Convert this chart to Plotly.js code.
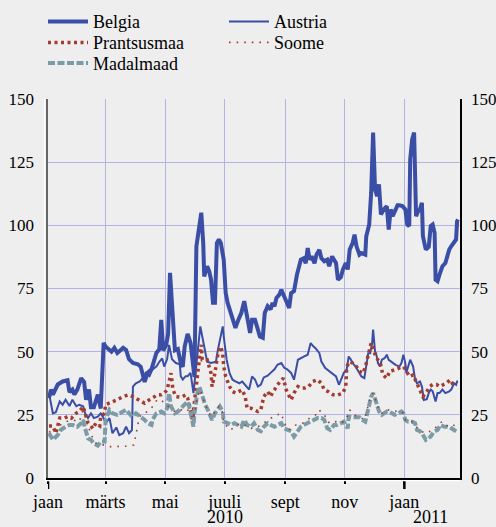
<!DOCTYPE html>
<html><head><meta charset="utf-8">
<script src="https://cdn.plot.ly/plotly-3.0.1.min.js"></script>
<style>html,body{margin:0;padding:0;background:#eeeeee;}</style>
</head><body><div id="chart" style="width:496px;height:527px;"></div>
<script>
// [day offset from 2010-01-01, value]
const belgia = [[1,31.6],[3,35],[5,33],[10,37],[15,38.2],[20,38.7],[22,34],[25,35],[27,33],[30,35],[34,39.5],[37,38],[39,31],[42,35],[44,28],[47,28],[51,33],[54,27.5],[57,53.5],[59,52],[65,50],[68,51.5],[71,49.5],[77,51.5],[80,50.7],[83,47],[87,45.5],[92,45],[95,44],[99,38],[102,41.6],[106,43],[111,49.5],[114,51],[116,62.6],[118,50.5],[121,52.5],[123,57],[125,81.2],[127,68],[130,50.5],[133,51],[136,45.5],[138,44],[140,52],[143,57],[146,53.5],[150,40],[152,91.7],[155,99.7],[157,105],[159,93],[160,79.8],[163,83.8],[165,82],[167,78.5],[169,69.4],[171,69.4],[173,93],[175,94.4],[177,93],[180,86.4],[182,73.2],[184,69.3],[187,65.3],[190,62.6],[192,59.4],[195,62.6],[198,65.3],[201,70],[203,65.3],[204,63.3],[207,57.4],[209,62.6],[212,62.6],[215,58.7],[217,56],[220,55.5],[222,65.3],[225,68],[228,66.7],[230,69.3],[232,68],[234,71.3],[237,72.6],[239,74.5],[242,71.9],[245,69.3],[247,67.3],[249,73.2],[252,74],[255,80.5],[257,83.8],[259,86.4],[262,87],[264,85],[266,91],[268,86.4],[270,87.7],[273,85],[275,88.4],[278,90.3],[280,87],[283,85.8],[286,86.4],[288,83.8],[291,87.7],[295,85.1],[297,78.5],[300,79.5],[302,82.5],[305,85.1],[307,82.5],[309,90.4],[312,93],[314,96.3],[316,91.7],[319,88.4],[321,89],[325,88.4],[326,95.7],[329,100.3],[331,112.9],[333,136.7],[335,114.2],[337,111.5],[339,116.2],[341,104.3],[344,106.3],[347,107.6],[349,98.3],[351,106.3],[353,103.6],[356,106.3],[358,107.9],[360,107.9],[363,107.6],[366,106.3],[368,100.3],[370,99.7],[371,126.1],[373,134],[375,136.7],[377,103.6],[379,105.5],[381,106.3],[383,108.9],[384,95.7],[387,90.4],[390,91.5],[392,99.7],[394,100.3],[396,97],[397,78.5],[399,77.9],[401,80.5],[404,83.8],[407,85.1],[409,88.4],[411,90.4],[413,91.7],[416,93],[418,94.4],[419,101.6],[420,102.3]];

const austria = [[1,33.6],[5,25.6],[8,26],[12,30.3],[15,29],[18,31],[22,28.5],[25,31],[29,28.4],[32,29],[36,28.4],[38,25.6],[41,23.7],[44,25.6],[47,23.7],[51,24.3],[54,25.6],[57,23.7],[59,21.7],[63,23.7],[66,17.7],[70,20],[73,17],[77,17.7],[80,20.3],[83,17.7],[86,19],[87,36.2],[90,37.5],[94,38.2],[97,39.5],[100,41.6],[104,40.3],[107,43],[111,44.1],[114,46],[117,47.3],[119,44.1],[122,47],[124,52.7],[127,47],[131,45.5],[135,45],[136,40.3],[138,39],[141,40.3],[143,40.3],[146,41.6],[149,33.6],[153,50],[156,60],[158,56],[161,49.4],[163,46],[167,45.5],[172,46],[174,50.7],[177,56],[179,60],[180,56],[183,46.8],[186,41.5],[189,38.9],[192,38.2],[196,37.5],[199,38.2],[203,36.2],[206,35],[209,40.2],[212,39],[215,36.2],[218,37],[221,39.8],[225,40.5],[228,41.6],[232,43],[235,44.8],[239,45.5],[242,43.6],[245,43],[249,41.6],[252,38.9],[256,46.8],[259,47.3],[262,48],[266,48.8],[269,53.4],[272,52],[274,51.4],[278,49.4],[280,46.1],[284,43.5],[288,42.2],[291,41.6],[295,40.2],[298,36.9],[301,40.2],[303,41.6],[306,43],[308,48.1],[310,47],[312,45.5],[315,44.1],[318,42.2],[321,40.2],[324,39.5],[326,44.1],[328,49.4],[330,49.4],[332,53.4],[333,58.7],[335,50],[336,49.4],[338,45.5],[340,44.1],[342,46.8],[345,47.5],[347,48.8],[349,46.8],[353,45.5],[356,44.8],[360,44.1],[362,45.5],[364,48.8],[366,45.5],[367,41.6],[370,45.5],[371,46.8],[374,44.1],[376,38.9],[378,37.5],[381,38.2],[383,36.2],[385,30.9],[388,31.2],[390,33.6],[392,35],[394,34.3],[397,30.3],[399,33.6],[401,33.6],[404,35],[407,33.6],[411,34.3],[413,35],[416,37.5],[418,36.9],[419,38.2],[420,38.2]];

const prantsusmaa = [[1,20.6],[5,20.6],[8,17.7],[12,23.7],[17,23.7],[20,24.3],[24,23.7],[29,25.7],[32,26.3],[36,28.3],[38,25.6],[41,21.7],[44,20.6],[46,19.5],[49,21.7],[53,20.6],[54,24.3],[58,25.6],[59,29],[63,29.6],[66,30.3],[71,31],[77,32.2],[82,32.9],[87,32.2],[90,31.6],[95,30.3],[99,29.6],[104,31],[109,32.2],[112,32.9],[116,32.9],[119,33.6],[122,34.9],[124,38.9],[126,41.5],[128,34.9],[131,32.2],[135,32],[138,32.2],[141,32.9],[143,31.7],[146,27],[148,23],[151,33.6],[153,41.5],[155,46.8],[157,52.7],[158,46.8],[161,46.8],[163,46.8],[165,44.1],[167,41.5],[168,36.2],[171,41.5],[173,46.8],[175,50.7],[177,52],[179,49],[180,44.1],[182,40.2],[186,36.2],[189,34.2],[192,33.6],[196,34.2],[199,34.9],[202,32.2],[204,27.6],[208,27.6],[211,27],[215,26.3],[218,27],[221,32.2],[225,34.2],[228,32.2],[230,34],[232,34.9],[235,36.9],[239,38.9],[241,39.5],[244,34.9],[247,32.2],[249,30.9],[252,33.6],[256,36.2],[259,35.6],[263,35.6],[267,36.2],[271,38.2],[276,38.9],[280,37.5],[283,34.9],[287,34.2],[292,32.9],[297,32.9],[302,33.6],[305,36.2],[306,44.1],[309,46.1],[312,45.5],[316,44.1],[319,42.2],[323,41.5],[326,45.5],[328,48.8],[329,50.7],[331,53.4],[333,51.4],[335,49.4],[336,47.5],[340,46.1],[343,40.8],[347,39.5],[350,42.2],[355,42.8],[360,43.5],[364,44.1],[367,42.5],[370,40.2],[374,40.8],[377,38.2],[381,34.9],[384,32.2],[388,34.2],[391,36.2],[394,37],[398,37],[401,36.2],[405,37],[408,37.5],[412,38.9],[415,36.9],[418,37.5]];

const soome = [[1,18.4],[5,17.7],[10,20.3],[18,22.3],[25,23],[32,22.3],[36,27],[39,23],[42,19.6],[46,15.7],[49,13.8],[53,13.1],[58,13.1],[63,12.4],[70,12.4],[77,12.4],[83,12.6],[88,13.1],[90,17.7],[93,23],[95,25],[99,25.6],[102,26.3],[106,27.6],[109,29.6],[112,31],[116,31],[119,29.6],[123,28.3],[126,27.6],[130,26.3],[133,26.3],[136,27],[140,27.6],[143,27],[146,25.6],[149,23],[153,32.2],[156,34.9],[158,32.2],[162,28.3],[165,25.6],[168,24.3],[172,27],[175,28.3],[178,27.6],[180,21.7],[184,20.3],[187,19],[191,20.3],[194,21],[198,21.7],[201,21],[204,20.3],[208,19.6],[211,20.3],[215,20.3],[218,21],[221,21.7],[225,23],[228,23.7],[232,24.3],[235,25],[239,25.6],[241,23],[244,20.3],[247,19],[250,20.3],[254,21],[257,21],[261,21.7],[264,22.3],[268,23.7],[271,24.3],[274,25],[278,27],[281,25],[285,24.3],[288,21.7],[295,22.3],[300,21.7],[305,23],[309,27],[313,25],[319,24.3],[324,23],[327,27],[330,31.6],[333,33.6],[336,30.3],[339,27],[342,25.6],[348,27],[353,26.3],[358,26.6],[363,26.3],[366,23],[371,23],[377,20.3],[380,19],[383,18.3],[387,17.7],[390,18.3],[395,19],[401,21.7],[404,22.3],[407,21],[411,20.3],[415,21],[419,20.3]];

const madalmaad = [[1,17.7],[5,15.1],[10,17],[13,19],[18,20.3],[22,21],[25,21],[30,20.3],[34,21.7],[36,23],[38,19.6],[41,15.7],[44,15.1],[47,13.7],[51,12.8],[54,14.4],[58,14.4],[59,23],[63,27],[66,25.6],[71,25],[77,26.3],[80,27],[83,25.6],[86,24.3],[90,25.6],[95,24.3],[99,23],[102,21.7],[106,21],[107,23],[111,25.6],[116,26.3],[119,25.6],[122,27.6],[124,33.6],[126,28.3],[130,25.6],[133,26.3],[136,27.6],[140,29],[143,30.3],[145,27.6],[147,24.3],[149,20.3],[150,25.6],[153,33.6],[155,36.2],[157,33.6],[158,33],[161,29],[163,27.6],[166,25],[168,23],[171,25.6],[174,27.6],[176,28.3],[179,26.3],[180,22.3],[184,21.7],[187,21],[191,21.7],[194,21],[198,20.3],[201,23],[204,21],[208,20.3],[211,21.7],[215,19],[218,18.5],[221,20.3],[225,21.7],[228,21],[232,20.3],[235,21],[239,21.7],[242,19.6],[245,19],[249,18.5],[252,16.4],[256,18.5],[259,20.3],[262,21],[266,21.7],[269,22.3],[273,23],[276,23.7],[280,23.7],[283,23],[286,19.7],[289,19],[293,21],[296,21],[300,21.7],[303,22.3],[307,19.7],[308,24.3],[312,24],[315,24],[319,24],[322,23],[325,22.3],[327,25.6],[329,29.6],[331,32.2],[333,33.6],[335,31.6],[337,29],[339,26.4],[342,25],[344,25.6],[347,26.3],[349,26.3],[352,25.6],[355,25],[359,25.6],[362,26.3],[364,25.6],[366,23],[369,22.3],[373,22.3],[376,21.7],[378,19],[381,18.5],[383,17.7],[387,15.1],[390,15.7],[392,16.4],[395,18.3],[399,19],[402,21],[406,20.3],[409,20.3],[412,20],[416,19],[419,18.3]];

const tickDates = ['2010-01-01','2010-03-01','2010-05-01','2010-07-01','2010-09-01','2010-11-01','2011-01-01'];
const tickLabels = ['jaan','märts','mai','juuli','sept','nov','jaan'];
const yearTicks = ['2010-01-01','2011-01-01'];
const yearLabels = ['2010','2011'];
const yearLabelPos = ['2010-07-01','2011-01-28'];
const yTicks = [0,25,50,75,100,125,150];
const xRange = ['2010-01-01','2011-02-27'];
const yRange = [0,150];

function toDate(d){ return new Date(Date.UTC(2010,0,1+d)).toISOString().slice(0,10); }
function xs(a){ return a.map(p=>toDate(p[0])); }
function ys(a){ return a.map(p=>p[1]); }

const BLUE = '#3a4ea6', RED = '#a33b2e', TEAL = '#7b9ba6';
const FONT = 'Liberation Serif';

const traces = [
  {name:'Belgia', legend:'legend', x:xs(belgia), y:ys(belgia), mode:'lines', line:{color:BLUE, width:4}},
  {name:'Austria', legend:'legend4', x:xs(austria), y:ys(austria), mode:'lines', line:{color:BLUE, width:2}},
  {name:'Prantsusmaa', legend:'legend2', x:xs(prantsusmaa), y:ys(prantsusmaa), mode:'lines', line:{color:RED, width:3.5, dash:'3px,3.5px'}},
  {name:'Soome', legend:'legend5', x:xs(soome), y:ys(soome), mode:'lines', yaxis:'y2', line:{color:RED, width:1.6, dash:'1.6px,6px'}},
  {name:'Madalmaad', legend:'legend3', x:xs(madalmaad), y:ys(madalmaad), mode:'lines', line:{color:TEAL, width:4, dash:'7px,2.5px'}}
];

const shapes = yearTicks.map(d=>({type:'line', xref:'x', yref:'paper', x0:d, x1:d, y0:0, y1:-0.029, line:{color:'#000', width:2.5}}));
shapes.push({type:'line', xref:'paper', yref:'paper', x0:-0.008, x1:-0.008, y0:-0.004, y1:1, line:{color:'#ffffff', width:1.2}});
shapes.push({type:'line', xref:'paper', yref:'paper', x0:-0.008, x1:1, y0:-0.007, y1:-0.007, line:{color:'#ffffff', width:1.2}});

const annotations = yearLabels.map((t,i)=>({text:t, x:yearLabelPos[i], xref:'x', yref:'paper', y:-0.102, yanchor:'middle', xanchor:'center', showarrow:false, font:{family:FONT, size:18, color:'#000'}}));

function leg(x, y){ return {orientation:'v', xref:'container', yref:'container', x:x, xanchor:'left', y:y, yanchor:'middle', bgcolor:'rgba(0,0,0,0)', borderwidth:0, font:{family:FONT, size:18, color:'#000'}, itemwidth:40}; }

const layout = {
  width:496, height:527,
  paper_bgcolor:'#eeeeee', plot_bgcolor:'#eeeeee',
  margin:{l:48, r:36, t:99, b:49, pad:0, autoexpand:false},
  font:{family:FONT, color:'#000'},
  showlegend:true,
  legend:leg(0.0867, 1-21.7/527),
  legend2:leg(0.0867, 1-42.7/527),
  legend3:leg(0.0867, 1-63.3/527),
  legend4:leg(0.4516, 1-21.7/527),
  legend5:leg(0.4516, 1-42.7/527),
  xaxis:{type:'date', range:xRange, tickmode:'array', tickvals:tickDates, ticktext:tickLabels, showgrid:true, gridcolor:'#b3b3e3', gridwidth:1.3, zeroline:false, showline:true, linecolor:'#000', linewidth:2, ticks:'outside', ticklen:4, tickwidth:2, tickcolor:'#000', ticklabelstandoff:2, tickfont:{family:FONT, size:18, color:'#000'}, fixedrange:true},
  yaxis:{range:yRange, tickmode:'array', tickvals:yTicks, showgrid:true, gridcolor:'#b3b3e3', gridwidth:1.3, zeroline:false, showline:true, linecolor:'#666', linewidth:2.5, ticks:'outside', ticklen:8, tickcolor:'rgba(0,0,0,0)', tickfont:{family:FONT, size:17, color:'#000'}, fixedrange:true},
  yaxis2:{range:yRange, overlaying:'y', side:'right', tickmode:'array', tickvals:yTicks, showgrid:false, zeroline:false, showline:true, linecolor:'#000', linewidth:1.5, ticks:'outside', ticklen:6, tickcolor:'rgba(0,0,0,0)', tickfont:{family:FONT, size:17, color:'#000'}, fixedrange:true},
  shapes:shapes,
  annotations:annotations
};

Plotly.newPlot('chart', traces, layout, {displayModeBar:false, staticPlot:true});
</script>
</body></html>
